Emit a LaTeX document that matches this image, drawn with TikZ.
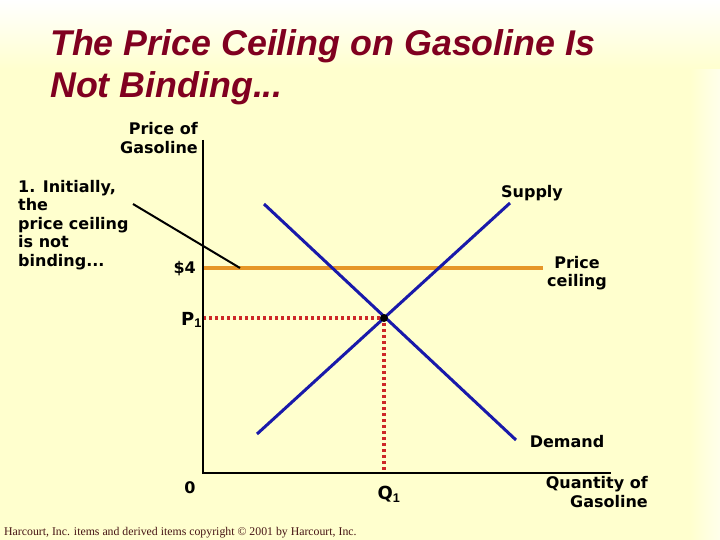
\documentclass[tikz,border=0pt]{standalone}
\usepackage{fontspec}
\setmainfont{Liberation Sans}
\newfontfamily\verd{DejaVu Sans}
\newfontfamily\timesf{Liberation Serif}
\definecolor{bgyellow}{RGB}{255,255,206}
\definecolor{titlered}{RGB}{128,0,32}
\definecolor{curveblue}{RGB}{25,25,170}
\definecolor{ceilorange}{RGB}{230,150,40}
\definecolor{dotred}{RGB}{205,40,40}
\definecolor{copyred}{RGB}{70,20,20}
\begin{document}
\begin{tikzpicture}[x=1pt,y=-1pt,
  lbl/.style={inner sep=0pt,font=\verd\bfseries\fontsize{16}{18.5}\selectfont,text=black},
  ttl/.style={anchor=base west,inner sep=0pt,text=titlered,font=\bfseries\itshape\fontsize{35.8}{42}\selectfont},
  curve/.style={draw=curveblue,line width=3pt},
  axis/.style={draw=black,line width=1.2pt}]
\useasboundingbox (0,0) rectangle (720,540);
\fill[bgyellow] (0,0) rectangle (720,540);
\shade[top color=white,bottom color=bgyellow] (0,0) rectangle (720,70);
\shade[left color=bgyellow,right color=white!60!bgyellow] (690,70) rectangle (720,540);
% title
\node[ttl] (title1) at (50,56) {The Price Ceiling on Gasoline Is};
\node[ttl] (title2) at (50,98) {Not Binding...};
% coordinates
\coordinate (o) at (203,473);
\coordinate (ytop) at (203,140);
\coordinate (xend) at (611,473);
\coordinate (s1) at (257,434);
\coordinate (s2) at (510,203);
\coordinate (d1) at (264,204);
\coordinate (d2) at (516,440);
\coordinate (c1) at (203,268);
\coordinate (c2) at (543,268);
\coordinate (e) at (384,318);
\coordinate (p1) at (203,318);
\coordinate (q1) at (384,473);
\coordinate (a1) at (133,204);
\coordinate (a2) at (240,268);
% curves
\draw[draw=ceilorange,line width=4pt] (c1) -- (c2);
\draw[draw=dotred,line width=3.4pt,dash pattern=on 3pt off 3pt] (p1) -- (e) -- (q1);
\draw[curve] (s1) -- (s2);
\draw[curve] (d1) -- (d2);
\fill[black] (e) circle (4pt);
\draw[axis] (ytop) -- (o) -- (xend);
\draw[black,line width=2pt] (a1) -- (a2);
% labels
\node[lbl,anchor=east,align=right] (ylab) at (198,138) {Price of\\Gasoline};
\node[lbl,anchor=north west,align=left] (ann) at (18,180) {1. Initially,\\the\\price ceiling\\is not\\binding...};
\node[lbl,anchor=east] (four) at (196,269) {\$4};
\node[lbl,anchor=east,font=\verd\bfseries\fontsize{18}{20}\selectfont] (plab) at (202,320) {P$_{\mathbf 1}$};
\node[lbl] (supply) at (532,193) {Supply};
\node[lbl,align=center] (ceil) at (577,273) {Price\\ceiling};
\node[lbl] (demand) at (567,442) {Demand};
\node[lbl] (zero) at (190,488) {0};
\node[lbl,font=\verd\bfseries\fontsize{18}{20}\selectfont] (qlab) at (389,494) {Q$_{\mathbf 1}$};
\node[lbl,anchor=east,align=right] (xlab) at (648,492) {Quantity of\\Gasoline};
\node[anchor=west,inner sep=0pt,text=copyred,font=\timesf\fontsize{11.8}{13}\selectfont] (copy) at (4,533)
  {Harcourt, Inc. items and derived items copyright \textcopyright\ 2001 by Harcourt, Inc.};
\end{tikzpicture}
\end{document}
